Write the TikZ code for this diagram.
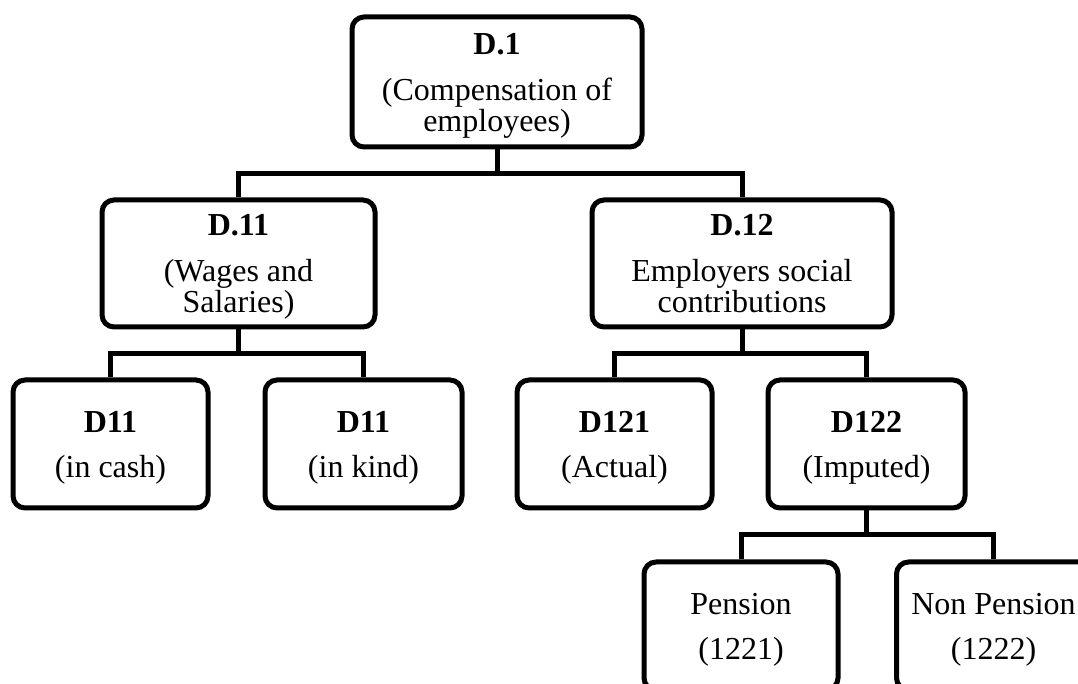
\documentclass[tikz,border=0pt]{standalone}
\usepackage{fontspec}
\setmainfont{Liberation Serif}
\usetikzlibrary{calc}
% raise the first line so that the cap-top..baseline block sits centred
\newcommand{\toprule}{\rule{0pt}{14.3pt}}
\begin{document}
\begin{tikzpicture}[x=0.5pt,y=-0.5pt,
  box/.style={draw=black, line width=2.5pt, rounded corners=6pt, fill=white,
    align=center, inner sep=0pt,
    font=\fontsize{16}{15.5}\selectfont},
  lvl1/.style={box, minimum width=145pt, minimum height=65pt},
  lvl2/.style={box, minimum height=63.5pt},
  lvl3/.style={box, minimum height=64pt},
  link/.style={draw=black, line width=2.5pt}]
\useasboundingbox (0,0) rectangle (1078,684);
\clip (0,0) rectangle (1078,684);

% root
\node[lvl1] (d1) at (497,82)
  {\toprule\textbf{D.1}\\[7.5pt](Compensation of\\employees)};

% second level
\node[lvl2, minimum width=136.5pt] (d11) at (238.5,263.5)
  {\toprule\textbf{D.11}\\[7.5pt](Wages and\\Salaries)};
\node[lvl2, minimum width=150pt] (d12) at (742,263.5)
  {\toprule\textbf{D.12}\\[7.5pt]Employers social\\contributions\vphantom{)}};

% third level
\node[lvl3, minimum width=97.5pt] (cash) at (110.5,444)
  {\toprule\textbf{D11}\\[7pt](in cash)};
\node[lvl3, minimum width=98.5pt] (kind) at (363.5,444)
  {\toprule\textbf{D11}\\[7pt](in kind)};
\node[lvl3, minimum width=97.5pt] (d121) at (614.5,444)
  {\toprule\textbf{D121}\\[7pt](Actual)};
\node[lvl3, minimum width=98.5pt] (d122) at (866.5,444)
  {\toprule\textbf{D122}\\[7pt](Imputed)};

% fourth level
\node[lvl3, minimum width=97pt] (pen) at (741,626)
  {\toprule Pension\\[7pt](1221)};
\node[lvl3, minimum width=97pt] (npen) at (993.5,626)
  {\toprule Non Pension\\[7pt](1222)};

% junction points halfway between parent and children
\coordinate (j1) at ($(d1.south)!0.5!(d1.south |- d11.north)$);
\coordinate (j2) at ($(d11.south)!0.5!(d11.south |- cash.north)$);
\coordinate (j3) at ($(d12.south)!0.5!(d12.south |- d121.north)$);
\coordinate (j4) at ($(d122.south)!0.5!(d122.south |- pen.north)$);

% elbow connectors
\draw[link] (d1.south) -- (j1);
\draw[link] (d11.north) |- (j1) -| (d12.north);
\draw[link] (d11.south) -- (j2);
\draw[link] (cash.north) |- (j2) -| (kind.north);
\draw[link] (d12.south) -- (j3);
\draw[link] (d121.north) |- (j3) -| (d122.north);
\draw[link] (d122.south) -- (j4);
\draw[link] (pen.north) |- (j4) -| (npen.north);
\end{tikzpicture}
\end{document}
